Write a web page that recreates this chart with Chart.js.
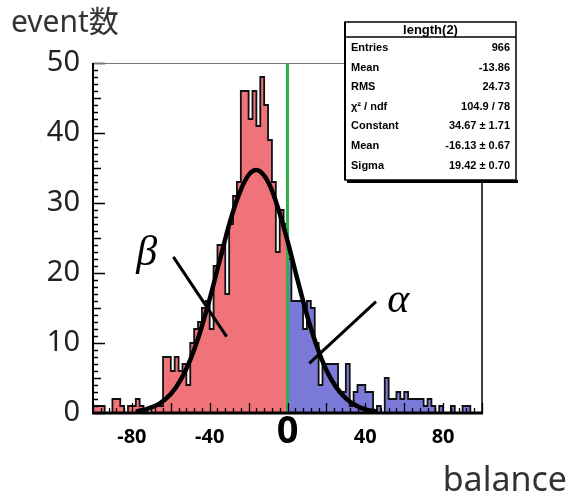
<!DOCTYPE html>
<html>
<head>
<meta charset="utf-8">
<script src="https://cdn.jsdelivr.net/npm/chart.js@4.4.1/dist/chart.umd.min.js"></script>
<style>
  html, body { margin: 0; padding: 0; background: #fff; }
  #wrap { width: 570px; height: 497px; }
</style>
</head>
<body>
<div id="wrap"><canvas id="histChart" width="570" height="497"></canvas></div>
<script>
// histogram "length(2)": 100 bins of width 2 from -100 to 100
const xMin = -100;
const binWidth = 2;
const counts = [
  1, 1, 1, 0, 0, 2, 2, 1, 0, 1, 1, 2, 1, 0, 0, 1, 1, 1,
  8, 8, 6, 8, 6, 7, 4,
  10, 12, 13, 15, 16, 12,
  21, 24, 24, 17, 27, 31, 33,
  46, 46, 42, 46, 41, 48, 44, 39,
  33, 23, 29, 27,
  22, 16, 16, 16, 12, 16, 15, 10, 4,
  7, 7, 7, 7, 3, 3, 7, 1, 3, 4, 4, 3, 3,
  0, 1, 0, 5, 2, 2, 3, 2, 3, 2, 2, 2, 2, 1, 2, 1, 0, 1, 0, 0, 1, 0, 0, 1, 1, 0, 0, 0
];

// gaussian fit curve
const fitX = [-78, -72, -66, -60, -55, -50, -45, -40, -35, -30, -25, -20, -16, -12, -8, -4, 0, 5, 10, 15, 20, 25, 30, 35, 40, 46];
const fitY = [0.2, 0.6, 1.3, 2.7, 4.7, 7.6, 11.5, 16.3, 21.6, 26.9, 31.2, 34.0, 34.7, 33.9, 31.8, 28.5, 24.6, 19.2, 14.0, 9.6, 6.1, 3.7, 2.1, 1.1, 0.5, 0.2];

const xTickLabels = [-80, -40, 0, 40, 80];
const yTickLabels = [0, 10, 20, 30, 40, 50];

const statsTitle = 'length(2)';
const statsNames = ['Entries', 'Mean', 'RMS', 'χ² / ndf', 'Constant', 'Mean', 'Sigma'];
const statsValues = ['966', '-13.86', '24.73', '104.9 / 78', '34.67 ± 1.71', '-16.13 ± 0.67', '19.42 ± 0.70'];

// pointer lines and greek labels, in data units
const betaLine = [{ x: -58.7, y: 22.3 }, { x: -31.3, y: 10.9 }];
const alphaLine = [{ x: 45.5, y: 15.9 }, { x: 11.2, y: 7.1 }];
const betaPos = { x: -72.4, y: 21.1 };
const alphaPos = { x: 57, y: 14.5 };

const RED = '#f07379';
const BLUE = '#7b79d8';
const GREEN = '#2db04a';
const FONT = '"Noto Sans", "Noto Sans CJK JP", sans-serif';

// left bin edges with a closing point, for stepped lines
function stepPoints(from, to) {
    const pts = [];
    for (let i = from; i < to; i++) pts.push({ x: xMin + i * binWidth, y: counts[i] });
    pts.push({ x: xMin + to * binWidth, y: counts[to - 1] });
    return pts;
}

const fitPoints = fitX.map((x, i) => ({ x: x, y: fitY[i] }));

const decor = {
    id: 'rootDecor',
    afterDatasetsDraw(chart) {
        const { ctx, chartArea: a, scales: { x, y } } = chart;
        ctx.save();
        // inner ticks, ROOT style
        ctx.strokeStyle = '#000';
        ctx.lineWidth = 1.3;
        ctx.beginPath();
        for (let v = -100; v <= 100; v += 4) {
            const px = Math.round(x.getPixelForValue(v)) + 0.5;
            const len = v % 20 === 0 ? 10 : 5;
            ctx.moveTo(px, a.bottom);
            ctx.lineTo(px, a.bottom - len);
        }
        for (let v = 0; v <= 50; v++) {
            const py = Math.round(y.getPixelForValue(v)) + 0.5;
            const len = v % 10 === 0 ? 12 : (v % 5 === 0 ? 8 : 5);
            ctx.moveTo(a.left, py);
            ctx.lineTo(a.left + len, py);
        }
        ctx.stroke();

        // frame
        ctx.strokeStyle = '#777';
        ctx.lineWidth = 1;
        ctx.beginPath();
        ctx.moveTo(a.left, a.top + 0.5);
        ctx.lineTo(345, a.top + 0.5);
        ctx.stroke();
        ctx.strokeStyle = '#000';
        ctx.lineWidth = 1.5;
        ctx.beginPath();
        ctx.moveTo(a.right, 180);
        ctx.lineTo(a.right, a.bottom);
        ctx.stroke();
        ctx.lineWidth = 2;
        ctx.beginPath();
        ctx.moveTo(a.left, a.top);
        ctx.lineTo(a.left, a.bottom);
        ctx.stroke();
        ctx.lineWidth = 3;
        ctx.beginPath();
        ctx.moveTo(a.left - 1, a.bottom);
        ctx.lineTo(a.right + 1, a.bottom);
        ctx.stroke();
        ctx.restore();
    },
    afterDraw(chart) {
        const { ctx, scales: { x, y } } = chart;
        ctx.save();
        // axis titles
        ctx.fillStyle = '#333';
        ctx.textBaseline = 'alphabetic';
        ctx.textAlign = 'left';
        ctx.font = '30px ' + FONT;
        ctx.fillText('event数', 11, 32);
        ctx.font = '34px ' + FONT;
        ctx.textAlign = 'right';
        ctx.fillText('balance', 567, 491);

        // greek labels
        ctx.fillStyle = '#000';
        ctx.textAlign = 'center';
        ctx.font = 'italic 42px "Liberation Serif", serif';
        ctx.fillText('β', x.getPixelForValue(betaPos.x), y.getPixelForValue(betaPos.y));
        ctx.fillText('α', x.getPixelForValue(alphaPos.x), y.getPixelForValue(alphaPos.y));

        // stats box
        const bx = 345, by = 22, bw = 171, bh = 158;
        ctx.fillStyle = '#fff';
        ctx.fillRect(bx, by, bw, bh);
        ctx.fillStyle = '#000';
        ctx.fillRect(bx + 2, by + bh, bw, 3);
        ctx.strokeStyle = '#000';
        ctx.lineWidth = 1.5;
        ctx.strokeRect(bx, by, bw, bh);
        ctx.lineWidth = 2;
        ctx.beginPath();
        ctx.moveTo(bx, by);
        ctx.lineTo(bx, by + bh);
        ctx.stroke();
        ctx.lineWidth = 1.5;
        ctx.beginPath();
        ctx.moveTo(bx, by + 15);
        ctx.lineTo(bx + bw, by + 15);
        ctx.stroke();
        ctx.textBaseline = 'middle';
        ctx.textAlign = 'center';
        ctx.font = 'bold 13px "Liberation Sans", Arial, sans-serif';
        ctx.fillText(statsTitle, bx + bw / 2, by + 8);
        ctx.font = 'bold 11px "Liberation Sans", Arial, sans-serif';
        statsNames.forEach((name, i) => {
            const ty = by + 26 + i * 19.6;
            ctx.textAlign = 'left';
            ctx.fillText(name, bx + 6, ty);
            ctx.textAlign = 'right';
            ctx.fillText(statsValues[i], bx + bw - 6, ty);
        });
        ctx.restore();
    }
};

new Chart(document.getElementById('histChart'), {
    type: 'line',
    data: {
        datasets: [
            { data: betaLine, borderColor: '#000', borderWidth: 3, pointRadius: 0, fill: false, order: 0 },
            { data: alphaLine, borderColor: '#000', borderWidth: 3, pointRadius: 0, fill: false, order: 0 },
            { data: fitPoints, borderColor: '#000', borderWidth: 4.5, pointRadius: 0, fill: false,
              cubicInterpolationMode: 'monotone', order: 1 },
            { data: [{ x: 0, y: 0 }, { x: 0, y: 50 }], borderColor: GREEN, borderWidth: 3, pointRadius: 0, fill: false, order: 2 },
            { data: stepPoints(0, 100), stepped: true, borderColor: '#111', borderWidth: 1.8, pointRadius: 0, fill: false, order: 3 },
            { data: stepPoints(0, 50), stepped: true, borderWidth: 0, pointRadius: 0, fill: 'origin', backgroundColor: RED, order: 4 },
            { data: stepPoints(50, 100), stepped: true, borderWidth: 0, pointRadius: 0, fill: 'origin', backgroundColor: BLUE, order: 5 }
        ]
    },
    options: {
        responsive: false,
        devicePixelRatio: 1,
        animation: false,
        layout: { padding: { top: 63, right: 88, bottom: 0, left: 0 } },
        plugins: { legend: { display: false }, tooltip: { enabled: false } },
        scales: {
            x: {
                type: 'linear',
                min: -100,
                max: 100,
                afterBuildTicks: s => { s.ticks = xTickLabels.map(v => ({ value: v })); },
                afterFit: s => { s.height = 84; },
                grid: { display: false, drawTicks: false },
                border: { display: false },
                ticks: {
                    autoSkip: false,
                    maxRotation: 0,
                    padding: 4,
                    color: '#000',
                    font: c => (c.tick && c.tick.value === 0)
                        ? { family: FONT, size: 38, weight: 'bold', lineHeight: '30px' }
                        : { family: FONT, size: 20, weight: 'bold', lineHeight: '40px' },
                    callback: v => String(v)
                }
            },
            y: {
                min: 0,
                max: 50,
                afterBuildTicks: s => { s.ticks = yTickLabels.map(v => ({ value: v })); },
                afterFit: s => { s.width = 93; },
                grid: { display: false, drawTicks: false },
                border: { display: false },
                ticks: { padding: 13, color: '#222', font: { family: FONT, size: 29 } }
            }
        }
    },
    plugins: [decor]
});
</script>
</body>
</html>
